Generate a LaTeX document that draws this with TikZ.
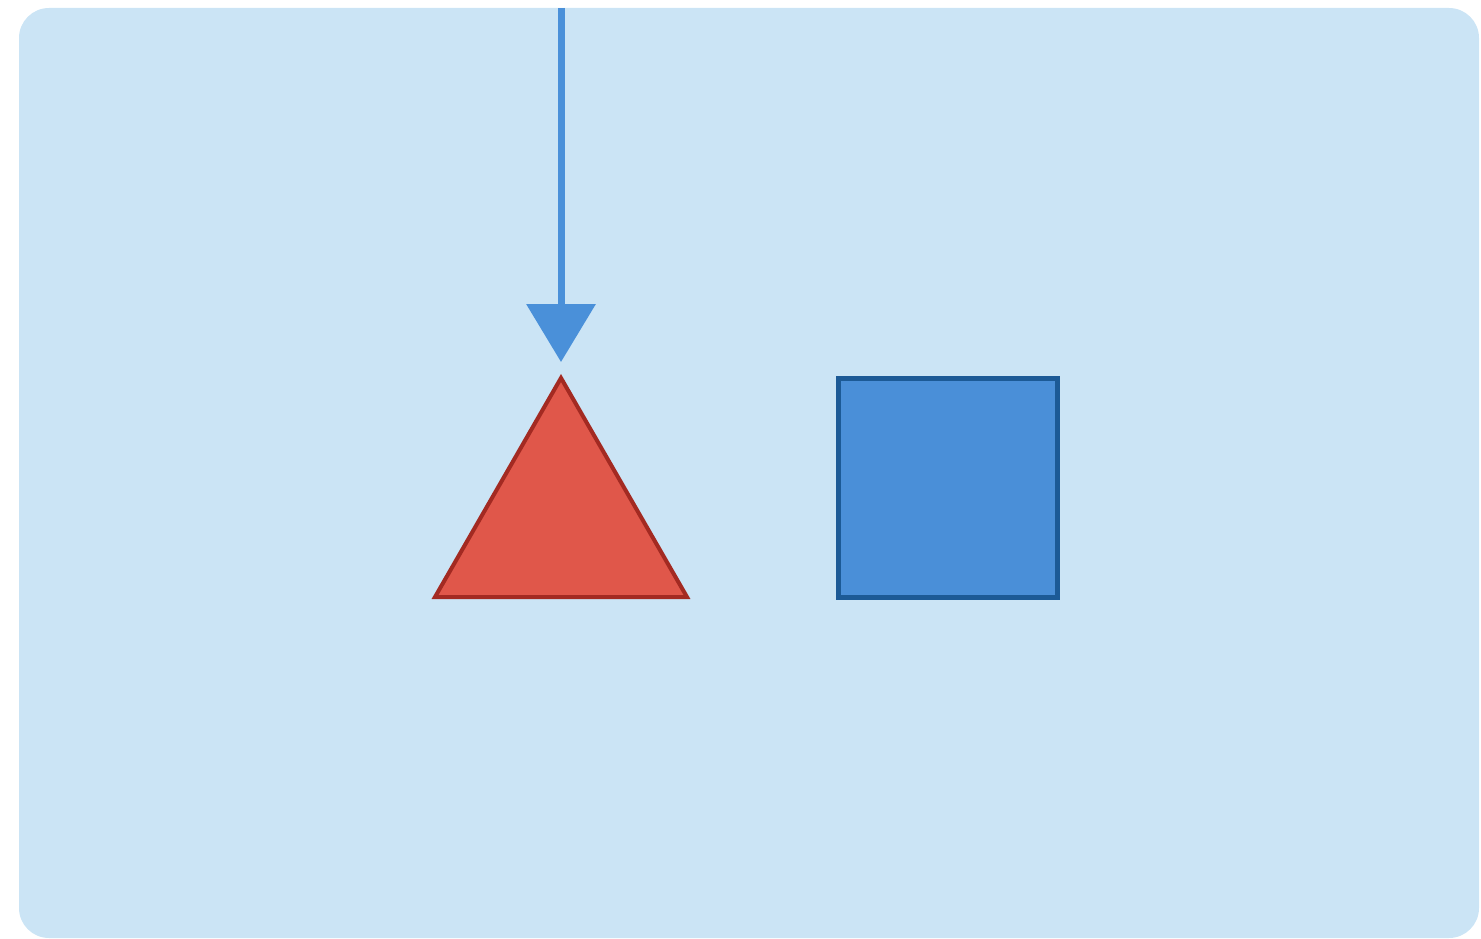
\documentclass[tikz,border=0pt]{standalone}
\usetikzlibrary{arrows.meta}
\definecolor{bgblue}{HTML}{CBE4F5}
\definecolor{arrowblue}{HTML}{4A90D9}
\definecolor{trifill}{HTML}{E0574A}
\definecolor{tridraw}{HTML}{A32A22}
\definecolor{sqfill}{HTML}{4A8FD8}
\definecolor{sqdraw}{HTML}{1C5A96}
\tikzset{
  panel/.style={fill=bgblue, draw=none, rounded corners=30pt},
  flowarrow/.style={draw=arrowblue, line width=7pt, -{Triangle[width=68pt,length=58pt]}},
  redtri/.style={fill=trifill, draw=tridraw, line width=4pt, line join=miter},
  bluesq/.style={rectangle, fill=sqfill, draw=sqdraw, line width=5pt, minimum width=219pt, minimum height=219pt, inner sep=0pt}
}
\begin{document}
\begin{tikzpicture}[x=1pt,y=-1pt]
\useasboundingbox (0,0) rectangle (1481,939);
\fill[panel] (19,8) rectangle (1479,938);
\coordinate (top) at (561,8);
\coordinate (tip) at (561,362);
\coordinate (apex) at (561,378);
\coordinate (bl) at (435,597);
\coordinate (br) at (687,597);
\draw[redtri] (apex) -- (br) -- (bl) -- cycle;
\node[bluesq] (sq) at (947.5,487.5) {};
\draw[flowarrow] (top) -- (tip);
\end{tikzpicture}
\end{document}
